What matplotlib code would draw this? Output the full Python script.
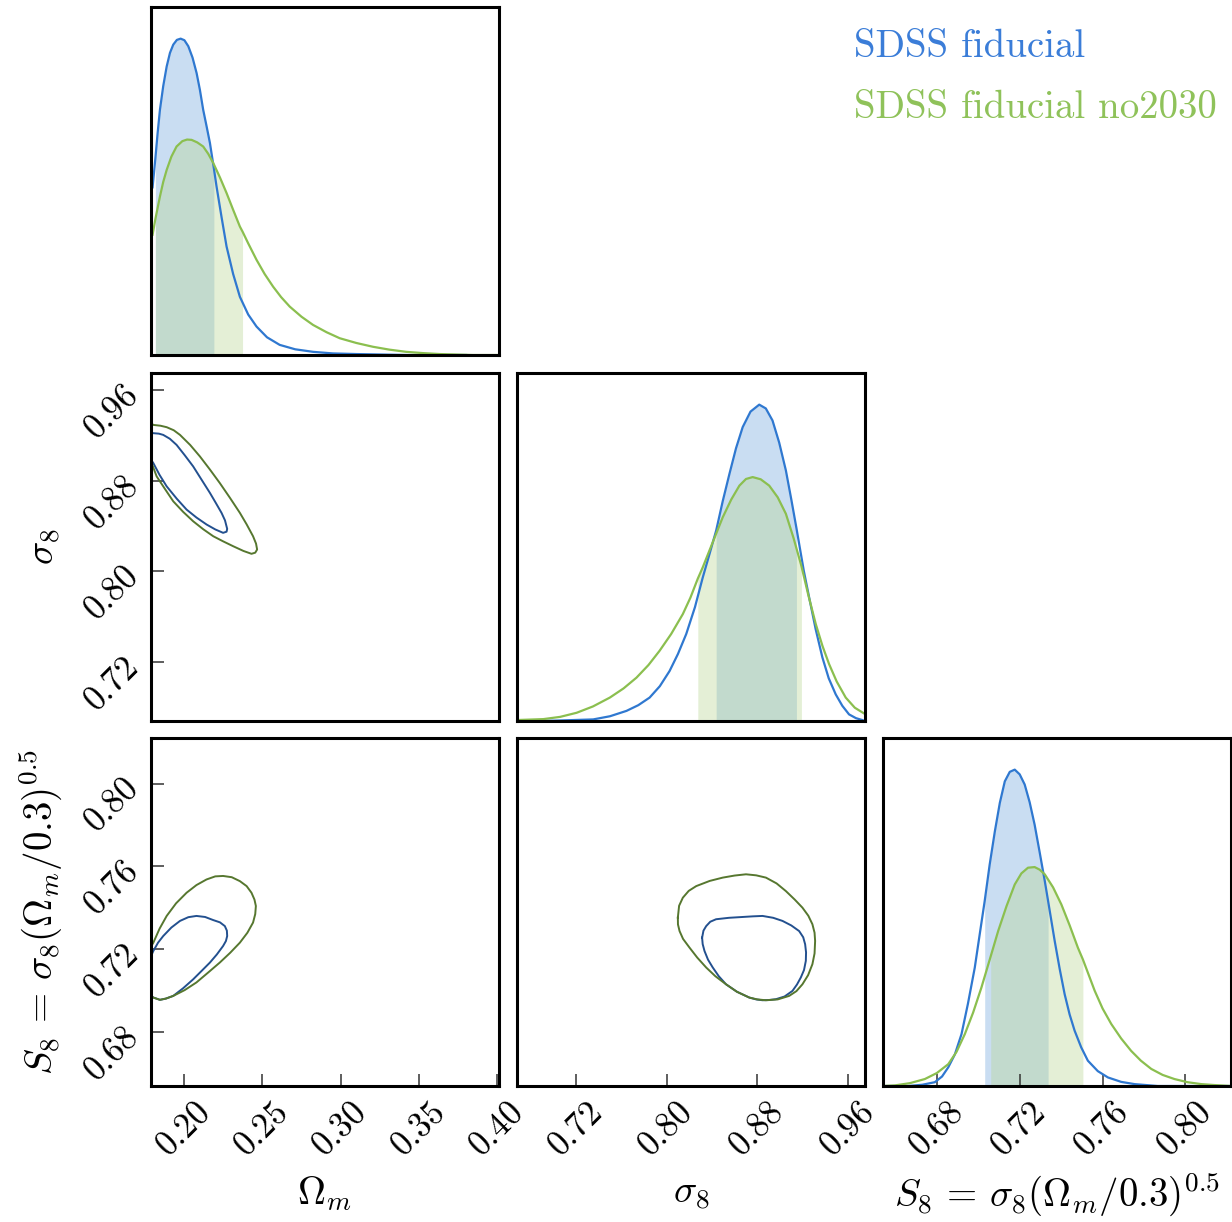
import numpy as np
import matplotlib
matplotlib.use('Agg')
import matplotlib.pyplot as plt

plt.rcParams['font.family'] = 'serif'
plt.rcParams['font.serif'] = ['cmr10']
plt.rcParams['mathtext.fontset'] = 'cm'
plt.rcParams['axes.unicode_minus'] = False

W, H = 1232, 1222

names = ['SDSS fiducial', 'SDSS fiducial no2030']
labels = [r'$\Omega_m$', r'$\sigma_8$', r'$S_8\,=\,\sigma_8(\Omega_m/0.3)^{0.5}$']

line_cols = ['#2f78d0', '#8bbf4f']
fill_cols = ['#c9ddf2', '#b6d690']
fill_alpha = [1.0, 0.37]
cont_cols = ['#23508f', '#56772f']

# axis ranges and ticks
om_lim = (0.179, 0.401)
s8_lim = (0.668, 0.975)
S8_lim = (0.654, 0.822)
om_ticks = [0.20, 0.25, 0.30, 0.35, 0.40]
s8_ticks = [0.72, 0.80, 0.88, 0.96]
S8_ticks = [0.68, 0.72, 0.76, 0.80]

# 1D marginals (peak of first chain = 1)
om_x_fid = [0.1800, 0.1818, 0.1832, 0.1847, 0.1868, 0.1890, 0.1911, 0.1932, 0.1955, 0.1979, 0.2003,
            0.2028, 0.2055, 0.2081, 0.2102, 0.2123, 0.2145, 0.2166, 0.2191, 0.2208, 0.2240, 0.2272,
            0.2314, 0.2357, 0.2410, 0.2463, 0.2530, 0.2611, 0.2710, 0.2824, 0.2950, 0.3100, 0.3418, 0.3800]
om_y_fid = [0.530, 0.622, 0.700, 0.775, 0.850, 0.912, 0.955, 0.981, 0.996, 1.000, 0.995,
            0.976, 0.940, 0.891, 0.838, 0.775, 0.722, 0.670, 0.590, 0.533, 0.436, 0.343,
            0.256, 0.184, 0.128, 0.090, 0.056, 0.032, 0.018, 0.010, 0.005, 0.003, 0.000, 0.000]
om_x_no = [0.1800, 0.1818, 0.1847, 0.1868, 0.1890, 0.1920, 0.1953, 0.1990, 0.2020, 0.2049, 0.2085,
           0.2123, 0.2155, 0.2187, 0.2230, 0.2272, 0.2314, 0.2357, 0.2374, 0.2410, 0.2463, 0.2515,
           0.2569, 0.2620, 0.2675, 0.2750, 0.2824, 0.2910, 0.2994, 0.3100, 0.3206, 0.3310, 0.3418,
           0.3525, 0.3631, 0.3843, 0.4000]
om_y_no = [0.380, 0.430, 0.501, 0.547, 0.585, 0.627, 0.659, 0.676, 0.681, 0.680, 0.672,
           0.659, 0.636, 0.607, 0.561, 0.512, 0.459, 0.406, 0.390, 0.353, 0.301, 0.256,
           0.216, 0.183, 0.153, 0.121, 0.095, 0.072, 0.053, 0.038, 0.026, 0.017, 0.010,
           0.006, 0.003, 0.000, 0.000]

s8_x_fid = [0.6680, 0.7000, 0.7352, 0.7500, 0.7646, 0.7750, 0.7850, 0.7940, 0.8026, 0.8100, 0.8173,
            0.8250, 0.8319, 0.8380, 0.8437, 0.8495, 0.8554, 0.8612, 0.8671, 0.8740, 0.8817, 0.8875,
            0.8934, 0.8993, 0.9052, 0.9100, 0.9145, 0.9169, 0.9210, 0.9257, 0.9315, 0.9374, 0.9430,
            0.9492, 0.9550, 0.9609, 0.9670, 0.9726, 0.9750]
s8_y_fid = [0.000, 0.001, 0.005, 0.015, 0.032, 0.050, 0.074, 0.110, 0.158, 0.212, 0.275,
            0.360, 0.454, 0.530, 0.602, 0.695, 0.781, 0.862, 0.929, 0.978, 1.000, 0.988,
            0.950, 0.880, 0.792, 0.700, 0.610, 0.560, 0.475, 0.391, 0.290, 0.201, 0.135,
            0.084, 0.048, 0.021, 0.009, 0.003, 0.000]
s8_x_no = [0.6680, 0.6913, 0.7060, 0.7206, 0.7350, 0.7499, 0.7620, 0.7734, 0.7840, 0.7938, 0.8040,
           0.8143, 0.8210, 0.8275, 0.8319, 0.8410, 0.8495, 0.8570, 0.8642, 0.8700, 0.8759, 0.8830,
           0.8905, 0.8980, 0.9052, 0.9120, 0.9189, 0.9250, 0.9316, 0.9375, 0.9433, 0.9500, 0.9580,
           0.9660, 0.9750]
s8_y_no = [0.003, 0.006, 0.013, 0.026, 0.046, 0.074, 0.103, 0.137, 0.177, 0.222, 0.275,
           0.338, 0.390, 0.450, 0.486, 0.568, 0.644, 0.700, 0.744, 0.765, 0.771, 0.764,
           0.744, 0.707, 0.655, 0.578, 0.490, 0.398, 0.306, 0.237, 0.180, 0.125, 0.074,
           0.042, 0.022]

S8_x_fid = [0.6540, 0.6662, 0.6730, 0.6790, 0.6825, 0.6855, 0.6887, 0.6919, 0.6950, 0.6983, 0.7007,
            0.7031, 0.7055, 0.7080, 0.7104, 0.7128, 0.7152, 0.7176, 0.7200, 0.7224, 0.7248, 0.7272,
            0.7296, 0.7321, 0.7337, 0.7369, 0.7393, 0.7417, 0.7441, 0.7465, 0.7497, 0.7529, 0.7577,
            0.7626, 0.7690, 0.7754, 0.7866, 0.8220]
S8_y_fid = [0.000, 0.000, 0.004, 0.012, 0.030, 0.059, 0.100, 0.164, 0.260, 0.374, 0.480,
            0.585, 0.700, 0.805, 0.895, 0.963, 0.993, 1.000, 0.985, 0.953, 0.897, 0.826,
            0.740, 0.648, 0.585, 0.458, 0.370, 0.290, 0.226, 0.175, 0.122, 0.080, 0.047,
            0.027, 0.013, 0.006, 0.000, 0.000]
S8_x_no = [0.6540, 0.6598, 0.6670, 0.6742, 0.6800, 0.6855, 0.6895, 0.6935, 0.6975, 0.7015, 0.7060,
           0.7096, 0.7136, 0.7176, 0.7208, 0.7240, 0.7272, 0.7296, 0.7321, 0.7361, 0.7401, 0.7441,
           0.7481, 0.7505, 0.7562, 0.7600, 0.7642, 0.7690, 0.7738, 0.7785, 0.7835, 0.7890, 0.7947,
           0.8010, 0.8076, 0.8140, 0.8220]
S8_y_no = [0.000, 0.002, 0.009, 0.022, 0.041, 0.069, 0.108, 0.164, 0.232, 0.311, 0.410,
           0.490, 0.568, 0.637, 0.672, 0.690, 0.692, 0.684, 0.669, 0.628, 0.574, 0.508,
           0.437, 0.400, 0.301, 0.245, 0.196, 0.150, 0.111, 0.080, 0.054, 0.035, 0.022,
           0.012, 0.006, 0.003, 0.000]

# 68% bands
om_band = [(0.1818, 0.2191), (0.1818, 0.2374)]
s8_band = [(0.8437, 0.9145), (0.8275, 0.9189)]
S8_band = [(0.7031, 0.7337), (0.7060, 0.7505)]

# 2D contours
om_s8_fid_x = [0.1762, 0.1805, 0.1840, 0.1868, 0.1910, 0.1953, 0.2005, 0.2059, 0.2112, 0.2166, 0.2205,
               0.2240, 0.2262, 0.2276, 0.2272, 0.2250, 0.2200, 0.2145, 0.2080, 0.2017, 0.1955, 0.1890,
               0.1845, 0.1805, 0.1762]
om_s8_fid_y = [0.9233, 0.9219, 0.9215, 0.9204, 0.9170, 0.9116, 0.9025, 0.8926, 0.8810, 0.8692, 0.8600,
               0.8516, 0.8450, 0.8375, 0.8350, 0.8340, 0.8370, 0.8413, 0.8475, 0.8545, 0.8640, 0.8750,
               0.8850, 0.8955, 0.9043]
om_s8_no_x = [0.1762, 0.1805, 0.1850, 0.1890, 0.1935, 0.1975, 0.2040, 0.2102, 0.2165, 0.2229, 0.2293,
              0.2357, 0.2400, 0.2441, 0.2460, 0.2467, 0.2455, 0.2431, 0.2380, 0.2314, 0.2250, 0.2187,
              0.2123, 0.2059, 0.1995, 0.1932, 0.1880, 0.1826, 0.1794, 0.1762]
om_s8_no_y = [0.9336, 0.9292, 0.9285, 0.9272, 0.9245, 0.9204, 0.9115, 0.9014, 0.8900, 0.8779, 0.8650,
              0.8516, 0.8415, 0.8310, 0.8245, 0.8193, 0.8165, 0.8155, 0.8180, 0.8222, 0.8265, 0.8310,
              0.8372, 0.8442, 0.8525, 0.8618, 0.8725, 0.8838, 0.8955, 0.9043]

om_S8_fid_x = [0.1762, 0.1805, 0.1835, 0.1868, 0.1920, 0.1975, 0.2028, 0.2080, 0.2135, 0.2187, 0.2230,
               0.2261, 0.2274, 0.2276, 0.2268, 0.2250, 0.2210, 0.2166, 0.2112, 0.2059, 0.1995, 0.1932,
               0.1885, 0.1847, 0.1805, 0.1762]
om_S8_fid_y = [0.7120, 0.7192, 0.7232, 0.7264, 0.7305, 0.7337, 0.7355, 0.7361, 0.7356, 0.7341, 0.7330,
               0.7312, 0.7290, 0.7264, 0.7240, 0.7216, 0.7175, 0.7136, 0.7095, 0.7055, 0.7012, 0.6975,
               0.6962, 0.6956, 0.6967, 0.6991]
om_S8_no_x = [0.1740, 0.1805, 0.1845, 0.1890, 0.1950, 0.2017, 0.2080, 0.2144, 0.2200, 0.2250, 0.2305,
              0.2357, 0.2400, 0.2431, 0.2450, 0.2459, 0.2455, 0.2441, 0.2405, 0.2357, 0.2295, 0.2229,
              0.2155, 0.2080, 0.2005, 0.1932, 0.1885, 0.1847, 0.1805, 0.1762]
om_S8_no_y = [0.7150, 0.7232, 0.7300, 0.7361, 0.7422, 0.7473, 0.7510, 0.7537, 0.7552, 0.7554, 0.7548,
              0.7529, 0.7505, 0.7473, 0.7440, 0.7409, 0.7370, 0.7329, 0.7280, 0.7232, 0.7183, 0.7136,
              0.7088, 0.7040, 0.7003, 0.6975, 0.6962, 0.6956, 0.6967, 0.6991]

s8_S8_fid_x = [0.8313, 0.8325, 0.8349, 0.8385, 0.8436, 0.8550, 0.8671, 0.8760, 0.8846, 0.8940, 0.9022,
               0.9100, 0.9169, 0.9205, 0.9222, 0.9230, 0.9228, 0.9212, 0.9184, 0.9150, 0.9110, 0.9040,
               0.8964, 0.8900, 0.8846, 0.8790, 0.8729, 0.8620, 0.8524, 0.8460, 0.8407, 0.8365, 0.8334,
               0.8318, 0.8313]
s8_S8_fid_y = [0.7256, 0.7290, 0.7312, 0.7333, 0.7345, 0.7352, 0.7356, 0.7359, 0.7361, 0.7352, 0.7337,
               0.7315, 0.7288, 0.7258, 0.7224, 0.7185, 0.7144, 0.7100, 0.7064, 0.7030, 0.6999, 0.6972,
               0.6959, 0.6955, 0.6954, 0.6958, 0.6967, 0.6995, 0.7031, 0.7070, 0.7112, 0.7150, 0.7192,
               0.7225, 0.7256]
s8_S8_no_x = [0.8099, 0.8110, 0.8143, 0.8195, 0.8261, 0.8380, 0.8495, 0.8600, 0.8700, 0.8790, 0.8876,
              0.8970, 0.9052, 0.9130, 0.9198, 0.9250, 0.9286, 0.9305, 0.9310, 0.9305, 0.9286, 0.9248,
              0.9198, 0.9145, 0.9081, 0.8980, 0.8876, 0.8800, 0.8729, 0.8620, 0.8524, 0.8430, 0.8349,
              0.8270, 0.8202, 0.8145, 0.8114, 0.8100, 0.8099]
s8_S8_no_y = [0.7353, 0.7410, 0.7449, 0.7482, 0.7505, 0.7530, 0.7546, 0.7556, 0.7562, 0.7557, 0.7546,
              0.7518, 0.7481, 0.7440, 0.7401, 0.7362, 0.7321, 0.7280, 0.7240, 0.7180, 0.7128, 0.7075,
              0.7031, 0.6998, 0.6975, 0.6958, 0.6954, 0.6958, 0.6967, 0.6995, 0.7031, 0.7070, 0.7112,
              0.7160, 0.7208, 0.7250, 0.7288, 0.7320, 0.7353]

fig = plt.figure(figsize=(W / 100, H / 100), dpi=100)

lefts = [151, 517, 883]
tops = [7, 373, 738]
size = 348


def make_ax(row, col):
    ax = fig.add_axes([lefts[col] / W, 1 - (tops[row] + size) / H, size / W, size / H])
    for s in ax.spines.values():
        s.set_linewidth(2.2)
        s.set_color('black')
    ax.tick_params(direction='in', length=9, width=1.1, color='#333333', labelsize=25,
                   top=False, right=False)
    ax.set_xticks([])
    ax.set_yticks([])
    return ax


def xticks(ax, ticks):
    ax.set_xticks(ticks)
    ax.set_xticklabels(['%.2f' % t for t in ticks])
    ax.tick_params(axis='x', pad=7)
    for lab in ax.get_xticklabels():
        lab.set_rotation(45)
        lab.set_ha('center')
        lab.set_va('top')


def yticks(ax, ticks):
    ax.set_yticks(ticks)
    ax.set_yticklabels(['%.2f' % t for t in ticks])
    ax.tick_params(axis='y', pad=12)
    for lab in ax.get_yticklabels():
        lab.set_rotation(45)
        lab.set_rotation_mode('anchor')
        lab.set_ha('right')
        lab.set_va('center')


def marginal(ax, xs, ys, bands, lim):
    for i in range(2):
        x = np.array(xs[i])
        y = np.array(ys[i])
        lo, hi = bands[i]
        m = (x >= lo - 1e-9) & (x <= hi + 1e-9)
        ax.fill_between(x[m], 0, y[m], color=fill_cols[i], alpha=fill_alpha[i], lw=0)
    for i in range(2):
        ax.plot(xs[i], ys[i], color=line_cols[i], lw=1.6, solid_joinstyle='round')
    ax.set_xlim(*lim)
    ax.set_ylim(0, 1.1)


def contours(ax, xs, ys):
    for i in range(2):
        ax.plot(xs[i], ys[i], color=cont_cols[i], lw=1.4, solid_joinstyle='round')


# diagonal
ax00 = make_ax(0, 0)
marginal(ax00, [om_x_fid, om_x_no], [om_y_fid, om_y_no], om_band, om_lim)

ax11 = make_ax(1, 1)
marginal(ax11, [s8_x_fid, s8_x_no], [s8_y_fid, s8_y_no], s8_band, s8_lim)

ax22 = make_ax(2, 2)
marginal(ax22, [S8_x_fid, S8_x_no], [S8_y_fid, S8_y_no], S8_band, S8_lim)
xticks(ax22, S8_ticks)

# off-diagonal
ax10 = make_ax(1, 0)
contours(ax10, [om_s8_fid_x, om_s8_no_x], [om_s8_fid_y, om_s8_no_y])
ax10.set_xlim(*om_lim)
ax10.set_ylim(*s8_lim)
yticks(ax10, s8_ticks)

ax20 = make_ax(2, 0)
contours(ax20, [om_S8_fid_x, om_S8_no_x], [om_S8_fid_y, om_S8_no_y])
ax20.set_xlim(*om_lim)
ax20.set_ylim(*S8_lim)
xticks(ax20, om_ticks)
yticks(ax20, S8_ticks)

ax21 = make_ax(2, 1)
contours(ax21, [s8_S8_fid_x, s8_S8_no_x], [s8_S8_fid_y, s8_S8_no_y])
ax21.set_xlim(*s8_lim)
ax21.set_ylim(*S8_lim)
xticks(ax21, s8_ticks)

# axis labels
for ax, lab in zip([ax20, ax21, ax22], labels):
    ax.set_xlabel(lab, fontsize=28, va='center')
    ax.xaxis.set_label_coords(0.5, -0.31)
for ax, lab in zip([ax10, ax20], labels[1:]):
    ax.set_ylabel(lab, fontsize=28, va='center')
ax10.yaxis.set_label_coords(-0.304, 0.5)
ax20.yaxis.set_label_coords(-0.318, 0.5)

# legend
fig.text(854 / W, 1 - 57 / H, names[0], color='#3b7dd8', fontsize=28, va='baseline')
fig.text(854 / W, 1 - 118 / H, names[1], color='#8fc25a', fontsize=28, va='baseline')

fig.savefig('out.png', dpi=100)
